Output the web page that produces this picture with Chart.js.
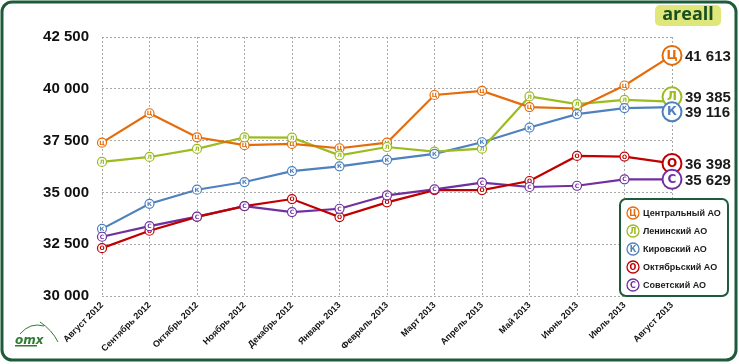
<!DOCTYPE html>
<html>
<head>
<meta charset="utf-8">
<script src="https://cdn.jsdelivr.net/npm/chart.js@4.4.0/dist/chart.umd.min.js"></script>
<style>
  html, body { margin: 0; padding: 0; background: #fff; }
  #wrap { width: 739px; height: 364px; }
</style>
</head>
<body>
<div id="wrap"><canvas id="chart"></canvas></div>
<script>
const MONTHS = ['Август 2012', 'Сентябрь 2012', 'Октябрь 2012', 'Ноябрь 2012', 'Декабрь 2012',
  'Январь 2013', 'Февраль 2013', 'Март 2013', 'Апрель 2013', 'Май 2013', 'Июнь 2013',
  'Июль 2013', 'Август 2013'];

const CENTRAL = [37400, 38820, 37660, 37280, 37340, 37130, 37400, 39700, 39900, 39120, 39050, 40160, 41613];
const LENIN = [36470, 36710, 37100, 37660, 37640, 36790, 37190, 36970, 37110, 39630, 39260, 39470, 39385];
const KIROV = [33240, 34450, 35130, 35500, 36030, 36260, 36570, 36860, 37420, 38130, 38780, 39070, 39116];
const OKTYABR = [32310, 33150, 33820, 34340, 34680, 33810, 34520, 35110, 35110, 35550, 36760, 36730, 36398];
const SOVET = [32860, 33370, 33830, 34340, 34050, 34210, 34860, 35150, 35470, 35260, 35320, 35630, 35629];

const SERIES_NAMES = ['Центральный АО', 'Ленинский АО', 'Кировский АО', 'Октябрьский АО', 'Советский АО'];
const SERIES_LETTERS = ['Ц', 'Л', 'К', 'О', 'С'];
const SERIES_COLORS = ['#e46c0a', '#9bbb1f', '#4f81bd', '#c00000', '#7030a0'];

const Y_MIN = 30000;
const Y_MAX = 42500;
const Y_STEP = 2500;

const FRAME_COLOR = '#1d5b3b';

function fmt(n) {
  return String(n).replace(/\B(?=(\d{3})+(?!\d))/g, ' ');
}

function roundRect(ctx, x, y, w, h, r) {
  ctx.beginPath();
  ctx.moveTo(x + r, y);
  ctx.arcTo(x + w, y, x + w, y + h, r);
  ctx.arcTo(x + w, y + h, x, y + h, r);
  ctx.arcTo(x, y + h, x, y, r);
  ctx.arcTo(x, y, x + w, y, r);
  ctx.closePath();
}

function letterCircle(ctx, x, y, r, color, letter, lw, font) {
  ctx.beginPath();
  ctx.arc(x, y, r, 0, Math.PI * 2);
  ctx.fillStyle = '#fff';
  ctx.fill();
  ctx.lineWidth = lw;
  ctx.strokeStyle = color;
  ctx.stroke();
  ctx.fillStyle = color;
  ctx.font = font;
  ctx.textAlign = 'center';
  ctx.textBaseline = 'middle';
  ctx.fillText(letter, x, y + 0.5);
}

// frame, badge, logo and legend
const decorPlugin = {
  id: 'decor',
  beforeDraw(chart) {
    const ctx = chart.ctx;
    ctx.save();
    ctx.fillStyle = '#fff';
    ctx.fillRect(0, 0, chart.width, chart.height);
    ctx.restore();
  },
  afterDraw(chart) {
    const ctx = chart.ctx;
    ctx.save();
    // outer frame
    roundRect(ctx, 2, 2, 734, 358, 10);
    ctx.lineWidth = 3;
    ctx.strokeStyle = FRAME_COLOR;
    ctx.stroke();

    // areall badge
    roundRect(ctx, 655, 5, 66, 21, 5);
    ctx.fillStyle = '#dfe77a';
    ctx.fill();
    ctx.fillStyle = '#174f22';
    ctx.font = 'bold 18px "Open Sans"';
    ctx.textAlign = 'center';
    ctx.textBaseline = 'middle';
    ctx.fillText('areall', 688, 15);

    // omx logo
    ctx.strokeStyle = '#2e7d32';
    ctx.lineWidth = 1;
    ctx.beginPath();
    ctx.moveTo(20, 334);
    ctx.quadraticCurveTo(30, 322, 44, 326);
    ctx.stroke();
    ctx.beginPath();
    ctx.moveTo(40, 322);
    ctx.quadraticCurveTo(52, 330, 58, 342);
    ctx.stroke();
    ctx.fillStyle = '#2e7d32';
    ctx.font = 'italic bold 12px "DejaVu Sans"';
    ctx.textAlign = 'left';
    ctx.textBaseline = 'alphabetic';
    ctx.fillText('omx', 15, 344);
    ctx.fillRect(15, 345, 22, 1.5);

    // legend
    roundRect(ctx, 620, 199, 108, 97, 6);
    ctx.fillStyle = '#fff';
    ctx.fill();
    ctx.lineWidth = 2;
    ctx.strokeStyle = FRAME_COLOR;
    ctx.stroke();
    SERIES_NAMES.forEach((name, i) => {
      const y = 213 + i * 18;
      letterCircle(ctx, 633, y, 6, SERIES_COLORS[i], SERIES_LETTERS[i], 1.3, 'bold 8px "DejaVu Sans"');
      ctx.fillStyle = '#1a1a1a';
      ctx.font = 'bold 9px "Liberation Sans"';
      ctx.textAlign = 'left';
      ctx.textBaseline = 'middle';
      ctx.fillText(name, 643, y + 0.5);
    });
    ctx.restore();
  }
};

// letter markers on every point, value labels on the last one
const markerPlugin = {
  id: 'markers',
  afterDatasetsDraw(chart) {
    const ctx = chart.ctx;
    ctx.save();
    const ends = [];
    chart.data.datasets.forEach((ds, i) => {
      const meta = chart.getDatasetMeta(i);
      meta.data.forEach((pt, j) => {
        if (j === meta.data.length - 1) {
          ends.push({ ds, x: pt.x, y: pt.y, v: ds.data[j] });
        } else {
          letterCircle(ctx, pt.x, pt.y, 4.5, ds.borderColor, ds.letter, 1.2, 'bold 6px "DejaVu Sans"');
        }
      });
    });
    // push end labels apart when they collide
    ends.sort((a, b) => a.y - b.y);
    for (let k = 1; k < ends.length; k++) {
      const gap = ends[k].y - ends[k - 1].y;
      if (gap < 15) {
        const d = (15 - gap) / 2;
        ends[k - 1].y -= d;
        ends[k].y += d;
      }
    }
    ends.forEach((e) => {
      letterCircle(ctx, e.x, e.y, 9.5, e.ds.borderColor, e.ds.letter, 2, 'bold 12px "DejaVu Sans"');
      ctx.fillStyle = '#1a1a1a';
      ctx.font = 'bold 15px "Liberation Sans"';
      ctx.textAlign = 'left';
      ctx.textBaseline = 'middle';
      ctx.fillText(fmt(e.v), e.x + 13, e.y + 1);
    });
    ctx.restore();
  }
};

const SERIES_DATA = [CENTRAL, LENIN, KIROV, OKTYABR, SOVET];

new Chart(document.getElementById('chart'), {
  type: 'line',
  data: {
    labels: MONTHS,
    datasets: SERIES_DATA.map((d, i) => ({
      label: SERIES_NAMES[i],
      letter: SERIES_LETTERS[i],
      data: d,
      borderColor: SERIES_COLORS[i],
      borderWidth: 2.2,
      pointRadius: 0,
      tension: 0,
      fill: false,
    })),
  },
  options: {
    responsive: true,
    maintainAspectRatio: false,
    animation: false,
    layout: { padding: { left: 0, right: 67, top: 37, bottom: 0 } },
    plugins: {
      legend: { display: false },
      tooltip: { enabled: false },
    },
    scales: {
      x: {
        offset: false,
        afterFit(scale) { scale.height = 68; },
        grid: { color: '#a8a8a8', lineWidth: 1, drawTicks: false },
        border: { display: false, dash: [2, 2] },
        ticks: {
          autoSkip: false,
          maxRotation: 45,
          minRotation: 45,
          padding: 4,
          color: '#111',
          font: { family: 'Liberation Sans', weight: 'bold', size: 9 },
        },
      },
      y: {
        min: Y_MIN,
        max: Y_MAX,
        afterFit(scale) { scale.width = 102; },
        grid: { color: '#a8a8a8', lineWidth: 1, drawTicks: false },
        border: { display: false, dash: [2, 2] },
        ticks: {
          stepSize: Y_STEP,
          padding: 13,
          color: '#111',
          font: { family: 'Liberation Sans', weight: 'bold', size: 15 },
          callback: (v) => fmt(v),
        },
      },
    },
  },
  plugins: [decorPlugin, markerPlugin],
});
</script>
</body>
</html>
